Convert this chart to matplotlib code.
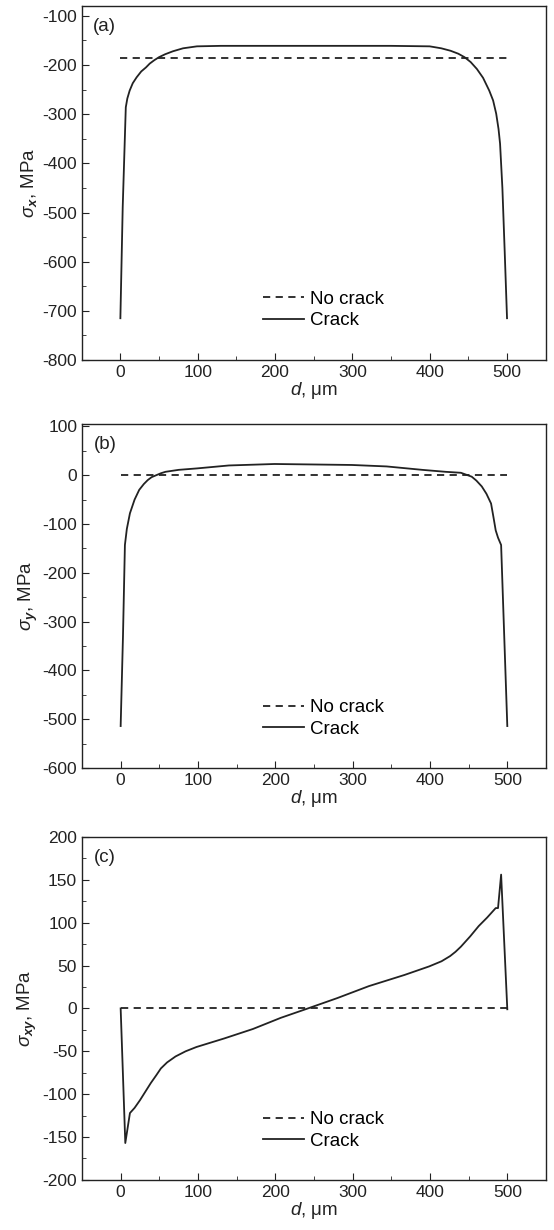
import numpy as np
import matplotlib
matplotlib.use("Agg")
import matplotlib.pyplot as plt
from matplotlib.ticker import MultipleLocator

plt.rcParams['font.family'] = ['Liberation Sans', 'DejaVu Sans']
plt.rcParams['mathtext.fontset'] = 'custom'
plt.rcParams['mathtext.rm'] = 'Liberation Sans'
plt.rcParams['mathtext.it'] = 'Liberation Sans:italic'
plt.rcParams['mathtext.bf'] = 'Liberation Sans:bold:italic'
plt.rcParams['axes.unicode_minus'] = False

# ---- data ----
# (a) sigma_x
dx_a = [0, 3, 7, 9, 12, 16, 21, 27, 33, 38, 44, 50, 58, 68, 81, 99, 130, 250, 350, 400,
        415, 427, 437, 445, 453, 461, 469, 477, 482, 486, 489, 491, 494, 497, 500]
sx_crack = [-715, -490, -286, -268, -252, -237, -225, -213, -205, -197, -190, -184, -178, -172, -166, -162, -161, -161, -161, -162,
            -166, -171, -177, -184, -194, -208, -226, -252, -272, -299, -330, -360, -450, -580, -715]
nc_x = [0, 500]
sx_nocrack = [-185, -185]

# (b) sigma_y
dx_b = [0, 3, 5.5, 8, 12, 18, 24, 30, 35, 40, 46, 52, 58, 75, 99, 140, 199, 250, 299, 344, 390,
        420, 440, 447, 454, 460, 467, 473, 479, 482, 485, 488, 492, 500]
sy_crack = [-514, -330, -143, -110, -78, -50, -30, -18, -10, -4, 0, 4, 7, 11, 14, 20, 23, 22, 21, 18, 11,
            7, 5, 1, -3, -11, -23, -38, -58, -85, -113, -128, -143, -514]
sy_nocrack = [0, 0]

# (c) sigma_xy
dx_c = [0, 6, 12, 18, 25, 32, 39, 46, 52, 60, 71, 84, 98, 134, 171, 207, 239, 280, 321, 367, 399,
        415, 426, 433, 440, 452, 463, 474, 482, 485, 488, 492, 500]
sxy_crack = [0, -157, -122, -116, -107, -97, -87, -78, -70, -63, -56, -50, -45, -35, -24, -11, -1, 12, 26, 39, 49,
             55, 61, 66, 72, 84, 96, 106, 114, 117, 117, 156, -1]
sxy_nocrack = [0, 0]

panels = [
    dict(x=dx_a, y=sx_crack, nc=sx_nocrack, lab='(a)', ylab=r'$\sigma_\mathbf{x}$, MPa',
         ylim=(-800, -80), ymaj=100, rect=[0.1475, 0.7073, 0.8375, 0.2878]),
    dict(x=dx_b, y=sy_crack, nc=sy_nocrack, lab='(b)', ylab=r'$\sigma_\mathbf{y}$, MPa',
         ylim=(-600, 105), ymaj=100, rect=[0.1480, 0.3756, 0.8375, 0.2797]),
    dict(x=dx_c, y=sxy_crack, nc=sxy_nocrack, lab='(c)', ylab=r'$\sigma_\mathbf{xy}$, MPa',
         ylim=(-200, 200), ymaj=50, rect=[0.1480, 0.0407, 0.8375, 0.2789]),
]

fig = plt.figure(figsize=(5.54, 12.3), dpi=100)
col = '#222222'

for p in panels:
    ax = fig.add_axes(p['rect'])
    ax.plot(nc_x, p['nc'], '--', color=col, lw=1.3, dashes=(4, 3), label='No crack')
    ax.plot(p['x'], p['y'], '-', color=col, lw=1.3, label='Crack')
    ax.set_xlim(-50, 550)
    ax.set_ylim(*p['ylim'])
    ax.xaxis.set_major_locator(MultipleLocator(100))
    ax.xaxis.set_minor_locator(MultipleLocator(50))
    ax.yaxis.set_major_locator(MultipleLocator(p['ymaj']))
    ax.yaxis.set_minor_locator(MultipleLocator(p['ymaj'] / 2))
    ax.tick_params(which='both', direction='in', labelsize=12.5, colors=col)
    ax.tick_params(which='major', length=5)
    ax.tick_params(which='minor', length=3)
    for s in ax.spines.values():
        s.set_color(col)
        s.set_linewidth(1.0)
    ax.set_xlabel(r'$d$, μm', fontsize=13.5, labelpad=0, color=col)
    ax.set_ylabel(p['ylab'], fontsize=13.5, labelpad=2, color=col)
    ax.text(0.025, 0.965, p['lab'], transform=ax.transAxes, fontsize=13.5, va='top', color=col)
    ax.legend(loc='lower left', bbox_to_anchor=(0.37, 0.06), frameon=False, fontsize=13.5,
              handlelength=2.2, handletextpad=0.3, labelspacing=0.25, borderpad=0)

fig.savefig('out.png', dpi=100)
